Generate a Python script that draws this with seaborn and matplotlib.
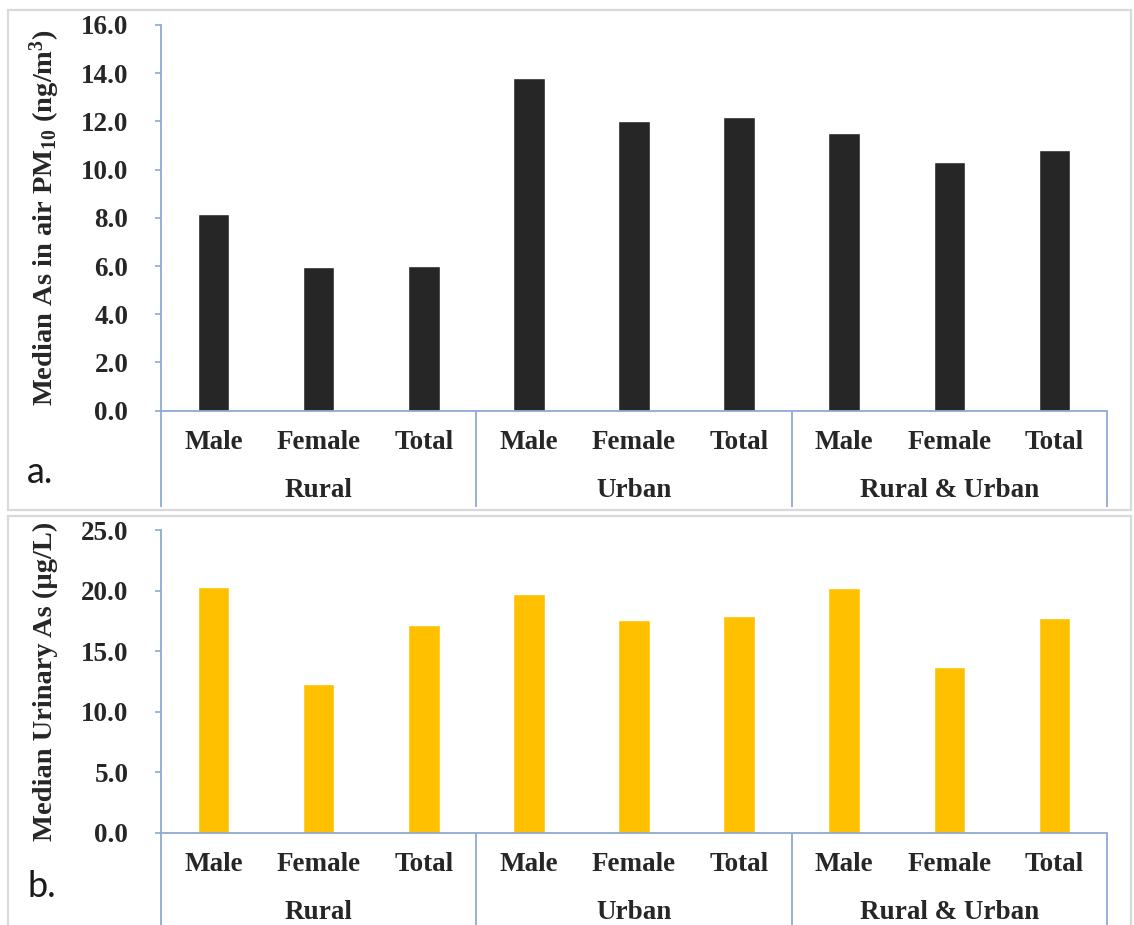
import numpy as np
import pandas as pd
import matplotlib
matplotlib.use("Agg")
import matplotlib.pyplot as plt
import matplotlib.transforms as mtransforms
from matplotlib.patches import Rectangle
from matplotlib.ticker import FormatStrFormatter
import seaborn as sns

# ---- data ----
groups = ["Rural", "Urban", "Rural & Urban"]
sexes = ["Male", "Female", "Total"]
air_as_pm10 = [8.15, 5.96, 6.01, 13.79, 12.01, 12.17, 11.53, 10.32, 10.81]   # ng/m3
urinary_as = [20.26, 12.30, 17.12, 19.71, 17.59, 17.89, 20.18, 13.66, 17.70]  # ug/L

air_ticks = [0, 2, 4, 6, 8, 10, 12, 14, 16]
urine_ticks = [0, 5, 10, 15, 20, 25]

sns.set_theme(style="white")
plt.rcParams["font.family"] = ["Liberation Serif", "DejaVu Serif"]
plt.rcParams["font.weight"] = "bold"
plt.rcParams["mathtext.fontset"] = "custom"
plt.rcParams["mathtext.rm"] = "Liberation Serif:bold"
plt.rcParams["mathtext.bf"] = "Liberation Serif:bold"
plt.rcParams["mathtext.it"] = "Liberation Serif:bold:italic"
plt.rcParams["mathtext.default"] = "rm"

W, H = 1134, 925
DPI = 100
fig = plt.figure(figsize=(W / DPI, H / DPI), dpi=DPI)
fig.patch.set_facecolor("white")

AXIS_BLUE = "#8FA8D6"
FRAME_GREY = "#D9D9D9"

keys = [f"{g}|{s}" for g in groups for s in sexes]
df = pd.DataFrame({
    "key": keys,
    "group": np.repeat(groups, len(sexes)),
    "sex": sexes * len(groups),
    "air": air_as_pm10,
    "urine": urinary_as,
})


def px_box(x0, y_top, x1, y_bottom):
    """Convert a pixel box (origin top-left) into a figure-fraction rect."""
    return [x0 / W, 1 - y_bottom / H, (x1 - x0) / W, (y_bottom - y_top) / H]


# panel frames
for (x0, y0, x1, y1) in [(8, 10, 1131, 510), (8, 516, 1131, 935)]:
    fig.patches.append(Rectangle((x0 / W, 1 - y1 / H), (x1 - x0) / W, (y1 - y0) / H,
                                 transform=fig.transFigure, facecolor="none",
                                 edgecolor=FRAME_GREY, linewidth=1.6, zorder=0))


def draw_panel(rect, column, color, ymax, ticks, ylabel, table_bottom, letter, letter_y):
    ax = fig.add_axes(rect)
    sns.barplot(data=df, x="key", y=column, order=keys, color=color,
                saturation=1, width=0.3, errorbar=None, ax=ax)
    ax.set_xlim(-0.5, len(keys) - 0.5)
    ax.set_ylim(0, ymax)
    ax.set_yticks(ticks)
    ax.yaxis.set_major_formatter(FormatStrFormatter("%.1f"))

    for side in ["top", "right"]:
        ax.spines[side].set_visible(False)
    for side in ["left", "bottom"]:
        ax.spines[side].set_color(AXIS_BLUE)
        ax.spines[side].set_linewidth(1.3)

    ax.tick_params(axis="y", which="major", direction="out", length=4.5, width=1.2,
                   color=AXIS_BLUE, pad=19, labelsize=19.5, left=True)
    for t in ax.get_yticklabels():
        t.set_fontweight("bold")

    # first level of the category axis: sex labels
    ax.set_xticks(range(len(keys)))
    ax.set_xticklabels(df["sex"], fontsize=19.5, fontweight="bold")
    ax.tick_params(axis="x", length=0, pad=23)
    for t in ax.get_xticklabels():
        t.set_verticalalignment("center")

    # second level: group labels and separator lines
    blend = mtransforms.blended_transform_factory(ax.transData, ax.transAxes)
    grp_tr = mtransforms.offset_copy(blend, fig=fig, y=-80, units="dots")
    for gi, g in enumerate(groups):
        cx = gi * len(sexes) + (len(sexes) - 1) / 2
        ax.text(cx, 0, g, transform=grp_tr, ha="center", va="center",
                fontsize=19.5, fontweight="bold")
    for b in np.arange(len(groups) + 1) * len(sexes) - 0.5:
        ax.plot([b, b], [0, table_bottom], transform=blend, color=AXIS_BLUE,
                linewidth=1.3, clip_on=False, solid_capstyle="butt")

    ax.set_xlabel("")
    ax.set_ylabel(ylabel, fontsize=20.5, fontweight="bold")
    ax.yaxis.label.set_verticalalignment("center")
    ax.yaxis.set_label_coords((45 - 161) / 946, 0.5)
    ax.grid(False)

    fig.text(27 / W, 1 - letter_y / H, letter, fontsize=26, family="Lato",
             fontweight="normal", ha="left", va="baseline", color="#1a1a1a")
    return ax


draw_panel(px_box(161, 25, 1107, 410.7), "air", "#262626", 16, air_ticks,
           r"Median As in air PM$_{10}$ (ng/m$^{3}$)", -96.5 / 385.7, "a.", 483)
draw_panel(px_box(161, 530, 1107, 832.7), "urine", "#FFC000", 25, urine_ticks,
           "Median Urinary As (µg/L)", -0.35, "b.", 897)

fig.savefig("out.png", dpi=DPI, facecolor="white")
